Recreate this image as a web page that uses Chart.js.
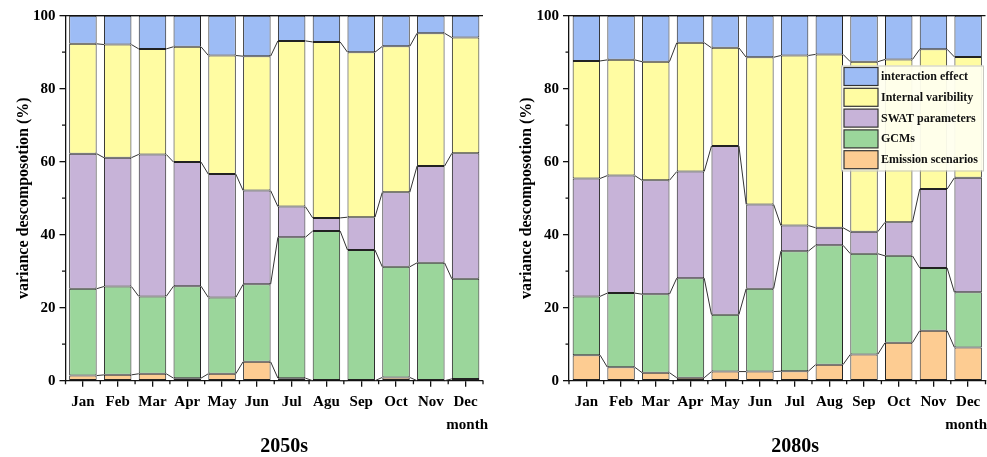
<!DOCTYPE html>
<html>
<head>
<meta charset="utf-8">
<script src="https://cdn.jsdelivr.net/npm/chart.js@4/dist/chart.umd.min.js"></script>
<style>
  html, body { margin: 0; padding: 0; background: #fff; }
  #wrap { position: relative; width: 987px; height: 457px; overflow: hidden; }
  canvas { position: absolute; top: 0; }
  #c1 { left: 0; }
  #c2 { left: 500px; }
</style>
</head>
<body>
<div id="wrap">
  <canvas id="c1" width="500" height="457"></canvas>
  <canvas id="c2" width="487" height="457"></canvas>
</div>
<script>
// Month labels for each period
const months2050 = ['Jan', 'Feb', 'Mar', 'Apr', 'May', 'Jun', 'Jul', 'Agu', 'Sep', 'Oct', 'Nov', 'Dec'];
const months2080 = ['Jan', 'Feb', 'Mar', 'Apr', 'May', 'Jun', 'Jul', 'Aug', 'Sep', 'Oct', 'Nov', 'Dec'];

// Share of variance (%) per source, 2050s
const emission2050    = [1.4, 1.6, 1.9, 0.7, 1.9, 5.2, 0.7, 0.0, 0.0, 0.9, 0.0, 0.5];
const gcm2050         = [23.8, 24.2, 21.2, 25.2, 20.9, 21.2, 38.6, 41.0, 35.8, 30.3, 32.3, 27.4];
const swat2050        = [37.0, 35.3, 38.9, 34.0, 33.8, 25.7, 8.4, 3.6, 9.0, 20.4, 26.5, 34.4];
const internal2050    = [30.1, 31.0, 28.9, 31.6, 32.5, 36.8, 45.4, 48.2, 45.2, 40.0, 36.4, 31.7];
const interaction2050 = [7.7, 7.9, 9.1, 8.5, 10.9, 11.1, 6.9, 7.2, 10.0, 8.4, 4.8, 6.0];

// Share of variance (%) per source, 2080s
const emission2080    = [7.0, 3.7, 2.2, 0.8, 2.5, 2.5, 2.6, 4.4, 7.2, 10.4, 13.7, 9.1];
const gcm2080         = [16.1, 20.3, 21.5, 27.3, 15.6, 22.7, 32.9, 32.7, 27.6, 23.8, 17.2, 15.1];
const swat2080        = [32.3, 32.2, 31.2, 29.2, 46.2, 23.1, 7.0, 4.8, 6.0, 9.2, 21.6, 31.4];
const internal2080    = [32.2, 31.7, 32.5, 35.3, 26.9, 40.3, 46.6, 47.5, 46.6, 44.6, 38.3, 33.1];
const interaction2080 = [12.4, 12.1, 12.6, 7.4, 8.8, 11.4, 10.9, 10.6, 12.6, 12.0, 9.2, 11.3];

const sourceNames = ['Emission scenarios', 'GCMs', 'SWAT parameters', 'Internal varibility', 'interaction effect'];
const sourceColors = ['#fdcc92', '#9bd69b', '#c7b3d8', '#fffca2', '#9dbcf5'];

const yTicks = [0, 20, 40, 60, 80, 100];
const yMinorTicks = [10, 30, 50, 70, 90];

const FONT = '"Liberation Serif", "Times New Roman", serif';
const INK = '#111';

// Connector lines between neighbouring bars, minor ticks, frame, captions and legend
const decor = {
  id: 'decor',
  afterDatasetsDraw(chart) {
    const ctx = chart.ctx;
    ctx.save();
    ctx.strokeStyle = '#333';
    ctx.lineWidth = 1;
    chart.data.datasets.forEach((ds, i) => {
      const els = chart.getDatasetMeta(i).data;
      ctx.beginPath();
      for (let j = 0; j < els.length - 1; j++) {
        const a = els[j], b = els[j + 1];
        ctx.moveTo(a.x + a.width / 2, a.y);
        ctx.lineTo(b.x - b.width / 2, b.y);
      }
      ctx.stroke();
    });
    ctx.restore();
  },
  afterDraw(chart, args, opts) {
    const ctx = chart.ctx;
    const area = chart.chartArea;
    const xs = chart.scales.x, ys = chart.scales.y;
    ctx.save();
    ctx.strokeStyle = INK;
    ctx.lineWidth = 1.3;
    // top frame
    ctx.beginPath();
    ctx.moveTo(area.left, area.top);
    ctx.lineTo(area.right, area.top);
    ctx.stroke();
    // minor ticks
    ctx.beginPath();
    yMinorTicks.forEach(v => {
      const y = ys.getPixelForValue(v);
      ctx.moveTo(area.left - 3.5, y);
      ctx.lineTo(area.left, y);
    });
    for (let i = 0; i <= chart.data.labels.length; i++) {
      const x = xs.getPixelForValue(i - 0.5);
      ctx.moveTo(x, area.bottom);
      ctx.lineTo(x, area.bottom + 3.5);
    }
    ctx.stroke();

    // axis caption and period title
    ctx.fillStyle = '#000';
    ctx.textBaseline = 'middle';
    ctx.font = 'bold 15px ' + FONT;
    ctx.textAlign = 'right';
    ctx.fillText('month', opts.monthRight, 425);
    ctx.font = 'bold 20px ' + FONT;
    ctx.textAlign = 'center';
    ctx.fillText(opts.title, (area.left + area.right) / 2 + opts.titleShift, 446.5);

    // legend
    if (opts.legend) {
      const L = opts.legend;
      ctx.fillStyle = 'rgba(255,255,238,0.95)';
      ctx.fillRect(L.x, L.y, L.w, L.h);
      ctx.strokeStyle = '#c8c8c0';
      ctx.lineWidth = 1;
      ctx.strokeRect(L.x + 0.5, L.y + 0.5, L.w, L.h);
      ctx.font = 'bold 12px ' + FONT;
      ctx.textAlign = 'left';
      const items = chart.data.datasets.slice().reverse();
      items.forEach((ds, k) => {
        const top = L.y + 2 + k * 20.8;
        ctx.fillStyle = ds.backgroundColor;
        ctx.fillRect(L.x + 3, top, 34, 18);
        ctx.strokeStyle = '#333';
        ctx.lineWidth = 1.2;
        ctx.strokeRect(L.x + 3, top, 34, 18);
        ctx.fillStyle = '#111';
        ctx.fillText(ds.label, L.x + 40, top + 9.5);
      });
    }
    ctx.restore();
  }
};

function makeChart(canvasId, labels, series, cfg) {
  const datasets = series.map((vals, i) => ({
    label: sourceNames[i],
    data: vals,
    backgroundColor: sourceColors[i],
    borderColor: '#222',
    borderWidth: 1,
    borderSkipped: false,
    categoryPercentage: 1,
    barPercentage: 0.79
  }));
  const tickFont = { family: FONT, size: 15, weight: 'bold' };
  return new Chart(document.getElementById(canvasId), {
    type: 'bar',
    data: { labels, datasets },
    options: {
      responsive: false,
      animation: false,
      layout: { padding: { left: 0, right: cfg.padRight, top: 15.7, bottom: 0 } },
      plugins: {
        legend: { display: false },
        tooltip: { enabled: false },
        decor: cfg.decor
      },
      scales: {
        x: {
          stacked: true,
          offset: true,
          grid: { display: true, drawOnChartArea: false, drawTicks: true, tickLength: 6, color: INK, lineWidth: 1.3, offset: false },
          border: { display: true, color: INK, width: 1.3 },
          ticks: { color: '#000', font: tickFont, padding: 6, maxRotation: 0, autoSkip: false },
          afterFit(s) { s.height = 76.3; }
        },
        y: {
          stacked: true,
          min: 0,
          max: 100,
          afterBuildTicks(s) { s.ticks = yTicks.map(v => ({ value: v })); },
          grid: { display: true, drawOnChartArea: false, drawTicks: true, tickLength: 6, color: INK, lineWidth: 1.3 },
          border: { display: true, color: INK, width: 1.3 },
          ticks: { color: '#000', font: tickFont, padding: 4 },
          title: {
            display: true,
            text: 'variance descomposotion (%)',
            color: '#000',
            font: { family: FONT, size: 16, weight: 'bold' },
            padding: { top: cfg.yTitlePad, bottom: 0 }
          },
          afterFit(s) { s.width = cfg.yWidth; }
        }
      }
    },
    plugins: [decor]
  });
}

makeChart('c1', months2050,
  [emission2050, gcm2050, swat2050, internal2050, interaction2050],
  { padRight: 17, yWidth: 65.5, yTitlePad: 14.5,
    decor: { title: '2050s', titleShift: 10, monthRight: 488 } });

makeChart('c2', months2080,
  [emission2080, gcm2080, swat2080, internal2080, interaction2080],
  { padRight: 1.5, yWidth: 69, yTitlePad: 17.5,
    decor: { title: '2080s', titleShift: 18, monthRight: 487,
             legend: { x: 341, y: 65.5, w: 142, h: 105 } } });
</script>
</body>
</html>
